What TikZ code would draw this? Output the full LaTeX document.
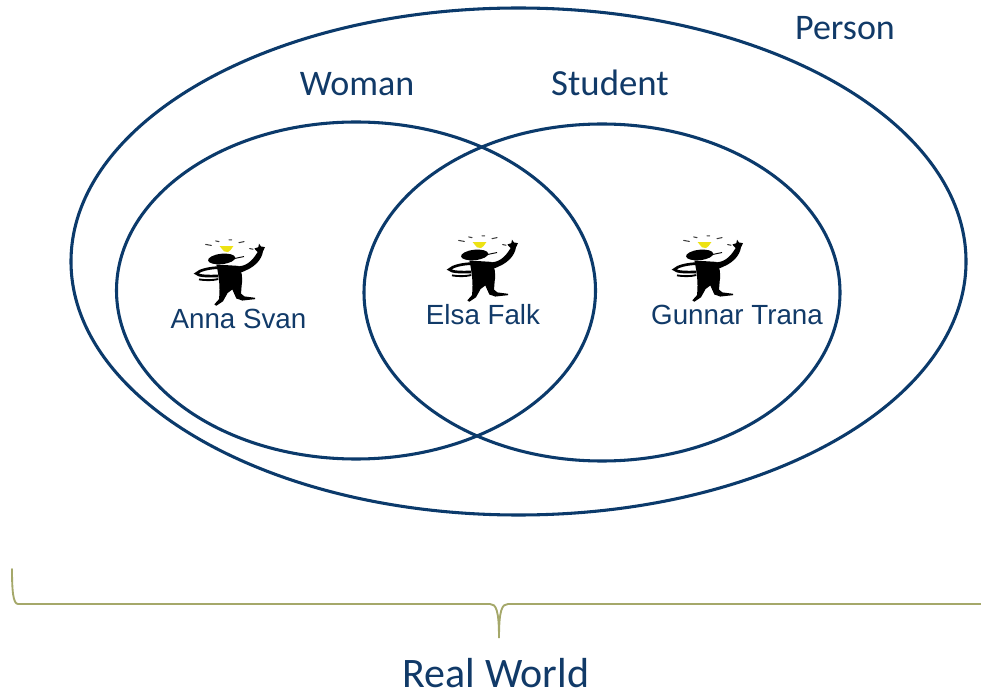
\documentclass[tikz,border=0pt]{standalone}
\usepackage{fontspec}
\usetikzlibrary{shapes.geometric}
\setmainfont{Carlito}
\newfontfamily\namefont{Liberation Sans}
\definecolor{navy}{HTML}{0B3A6B}
\definecolor{labelblue}{HTML}{113A68}
\definecolor{olive}{HTML}{A5A86A}
\tikzset{
  setring/.style={draw=navy,line width=2.3pt,ellipse,inner sep=0pt},
  setlabel/.style={text=labelblue,font=\fontsize{27}{32}\selectfont,inner sep=0pt,anchor=center},
  namelabel/.style={text=labelblue,font=\namefont\fontsize{20.8}{24}\selectfont,inner sep=0pt,anchor=center},
  pics/thinker/.style={code={
    \begin{scope}[shift={(-46,-13)},x=0.25pt,y=-0.26pt]
    % spark dashes
    \draw[black!75,line width=.8pt,line cap=round] (80,30) -- (97,33) (110,20) -- (120,22) (150,17) -- (158,17) (180,25) -- (195,22) (212,42) -- (222,44);
    % bulb
    \fill[yellow!92!black] (122,35) -- (163,35) -- (155,46) -- (147,52) -- (135,50) -- (128,42) -- cycle;
    % head and mouth line
    \fill[black,rotate around={6:(128,72)}] (128,72) ellipse (41 and 15);
    \draw[black,line width=.7pt] (160,72) -- (195,65);
    % torso and legs
    \fill[black] (112,88) -- (178,92) .. controls (188,105) and (192,125) .. (188,148)
      -- (186,172) -- (196,180) -- (228,184) -- (228,188) -- (190,192) -- (172,186)
      -- (160,160) -- (146,170) -- (132,194) -- (112,207) -- (106,203) -- (120,188)
      .. controls (122,165) and (124,140) .. (112,88) -- cycle;
    % raised arm and hand
    \fill[black] (176,94) .. controls (198,92) and (216,84) .. (236,52) -- (226,42) -- (238,38) -- (240,28)
      -- (246,36) -- (258,38) -- (252,50) .. controls (248,74) and (228,98) .. (182,112) -- cycle;
    % lower arm and hand
    \draw[black,line width=2pt] (118,97) .. controls (90,98) and (62,104) .. (52,114) .. controls (58,122) and (90,122) .. (118,121);
    \draw[black,line width=1.4pt] (60,131) .. controls (80,134) and (100,134) .. (118,130);
    \end{scope}
  }}
}
\begin{document}
\begin{tikzpicture}[x=0.75pt,y=-0.75pt]
\useasboundingbox (0,0) rectangle (981,691);
\fill[white] (0,0) rectangle (981,691);
\node[setring,minimum width=671.25pt,minimum height=380.25pt] (person) at (518.5,261.5) {};
\node[setring,minimum width=359.25pt,minimum height=252.75pt] (woman) at (356,290.5) {};
\node[setring,minimum width=357pt,minimum height=252.75pt] (student) at (602,292.5) {};
\node[setlabel] (lperson) at (845,28) {Person};
\node[setlabel] (lwoman) at (357,84) {Woman};
\node[setlabel,font=\fontsize{27.6}{32}\selectfont] (lstudent) at (610,83) {Student};
\pic (f1) at (225,247) {thinker};
\pic (f2) at (478,243) {thinker};
\pic (f3) at (703,243) {thinker};
\node[namelabel] (anna) at (238.5,319) {Anna Svan};
\node[namelabel] (elsa) at (483,315) {Elsa Falk};
\node[namelabel] (gunnar) at (737,315) {Gunnar Trana};
\coordinate (bl) at (12,569);
\coordinate (bm) at (499,638);
\coordinate (br) at (981,604);
\draw[olive,line width=1.4pt,line cap=round] (bl) .. controls (12,590) and (13,604) .. (18,604) -- (490,604)
  .. controls (496,604) and (499,610) .. (bm) .. controls (499,610) and (502,604) .. (508,604) -- (br);
\node[setlabel,font=\fontsize{31.5}{36}\selectfont] (world) at (496,673) {Real World};
\end{tikzpicture}
\end{document}
